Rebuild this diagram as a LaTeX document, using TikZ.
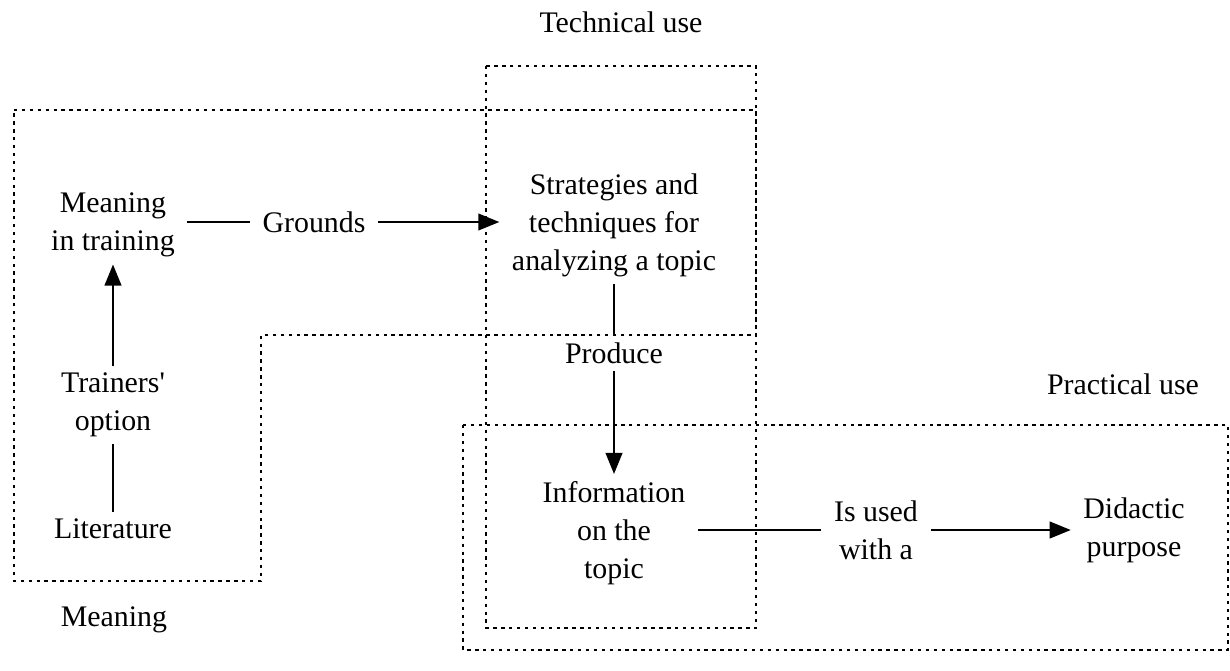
\documentclass[tikz,border=0pt]{standalone}
\usepackage{fontspec}
\setmainfont{Liberation Serif}
\usetikzlibrary{arrows.meta, positioning}

\begin{document}
\begin{tikzpicture}[x=0.02cm, y=-0.02cm, >={Triangle[length=12pt, width=9.5pt]},
    txt/.style={align=center, inner xsep=7pt, inner ysep=4pt, font=\fontsize{17}{21.6}\selectfont},
    area/.style={line width=1.1pt, dash pattern=on 1.9pt off 2.6pt},
    link/.style={line width=1.1pt}]

    \useasboundingbox (0,0) rectangle (1230,670);

    % Areas
    \draw[area] (486,66) rectangle (756,628);
    \draw[area] (14,110) -- (756,110) -- (756,335) -- (261,335) -- (261,581) -- (14,581) -- cycle;
    \draw[area] (463,425) rectangle (1228,650);

    \node (lbl_tech) [txt] at (621,22) {Technical use};
    \node (lbl_meaning) [txt] at (114,620) {Meaning};
    \node (lbl_practical) [txt] at (1123,384) {Practical use};

    % Meaning
    \node (meaning_tr) [txt] at (113,225) {Meaning\\in training};
    \node (trainers) [txt] at (113,405) {Trainers\textquotesingle\\option};
    \node (literature) [txt] at (113,529) {Literature};
    \node (grounds) [txt] at (314,222) {Grounds};

    % Technical use
    \node (strategies) [txt] at (614,225) {Strategies and\\techniques for\\analyzing a topic};
    \node (produce) [txt] at (614,353) {Produce};
    \node (info) [txt] at (614,533) {Information\\on the\\topic};

    % Practical use
    \node (used) [txt] at (876,530) {Is used\\with a};
    \node (didactic) [txt] at (1134,530) {Didactic\\purpose};

    % Connections
    \draw[link] (literature) -- (trainers);
    \draw[link, ->] (trainers) -- (meaning_tr);
    \draw[link] (meaning_tr.east |- grounds) -- (grounds);
    \draw[link, ->] (grounds) -- (strategies.west |- grounds);
    \draw[link] (strategies) -- (produce);
    \draw[link, ->] (produce) -- (info);
    \draw[link] (info.east |- used.west) -- (used.west);
    \draw[link, ->] (used.east) -- (didactic.west);

\end{tikzpicture}
\end{document}
